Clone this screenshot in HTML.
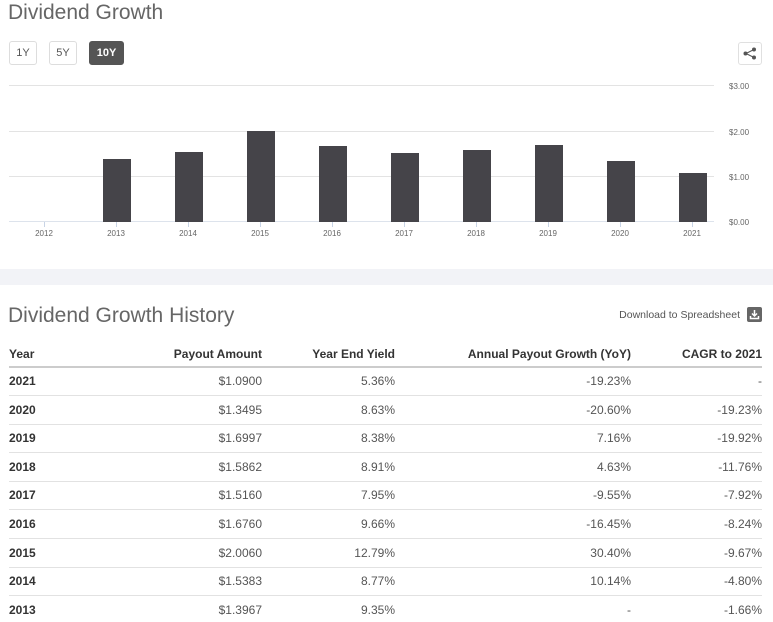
<!DOCTYPE html>
<html><head><meta charset="utf-8"><style>
*{margin:0;padding:0;box-sizing:border-box}
body{width:773px;height:622px;background:#fff;position:relative;overflow:hidden;font-family:"Liberation Sans",Arial,sans-serif;color:#333}
.a{position:absolute}
h1{position:absolute;font-weight:normal;color:#666;font-size:21px;left:8px;white-space:nowrap}
.btn{position:absolute;top:41px;height:24px;border:1px solid #ddd;border-radius:3px;font-size:11px;color:#555;text-align:center;line-height:22px;background:#fff}
.grid{position:absolute;left:9px;width:705px;height:1px;background:#e3e3e3}
.yl{position:absolute;left:729px;font-size:8px;color:#666}
.bar{position:absolute;width:28px;background:#454449}
.xl{position:absolute;top:229px;font-size:8px;color:#666;width:40px;text-align:center}
.tick{position:absolute;top:222px;width:1px;height:5px;background:#c8d4e6}
.r{position:absolute;left:9px;width:753px;height:1px;background:#e2e2e2}
.c{position:absolute;font-size:12px;color:#555;white-space:nowrap}
.y{font-weight:bold;color:#333;left:9px}
.h{font-weight:bold;color:#333}
</style></head><body>
<h1 style="top:1px">Dividend Growth</h1>
<div class="btn" style="left:9px;width:28px">1Y</div>
<div class="btn" style="left:49px;width:28px">5Y</div>
<div class="btn" style="left:89px;width:35px;background:#555;color:#fff;border-color:#555;font-weight:bold">10Y</div>
<div class="a" style="left:738px;top:42px;width:24px;height:23px;border:1px solid #e0e0e0;border-radius:3px">
<svg width="22" height="21" viewBox="0 0 22 21"><g fill="#555" stroke="#555" stroke-width="1"><line x1="7" y1="10.5" x2="15" y2="6.5"/><line x1="7" y1="10.5" x2="15" y2="14.5"/><circle cx="6.5" cy="10.5" r="1.5"/><circle cx="15" cy="6.5" r="1.5"/><circle cx="15" cy="14.5" r="1.5"/></g></svg></div>

<div class="grid" style="top:85px"></div>
<div class="grid" style="top:131px"></div>
<div class="grid" style="top:176px"></div>
<div class="grid" style="top:221px;background:#dde3ec"></div>
<div class="yl" style="top:82px">$3.00</div>
<div class="yl" style="top:128px">$2.00</div>
<div class="yl" style="top:173px">$1.00</div>
<div class="yl" style="top:218px">$0.00</div>

<div class="bar" style="left:103px;top:159px;height:63px"></div>
<div class="bar" style="left:175px;top:152px;height:70px"></div>
<div class="bar" style="left:247px;top:131px;height:91px"></div>
<div class="bar" style="left:319px;top:146px;height:76px"></div>
<div class="bar" style="left:391px;top:153px;height:69px"></div>
<div class="bar" style="left:463px;top:150px;height:72px"></div>
<div class="bar" style="left:535px;top:145px;height:77px"></div>
<div class="bar" style="left:607px;top:161px;height:61px"></div>
<div class="bar" style="left:679px;top:173px;height:49px"></div>

<div class="tick" style="left:44px"></div><div class="xl" style="left:24px">2012</div>
<div class="tick" style="left:116px"></div><div class="xl" style="left:96px">2013</div>
<div class="tick" style="left:188px"></div><div class="xl" style="left:168px">2014</div>
<div class="tick" style="left:260px"></div><div class="xl" style="left:240px">2015</div>
<div class="tick" style="left:332px"></div><div class="xl" style="left:312px">2016</div>
<div class="tick" style="left:404px"></div><div class="xl" style="left:384px">2017</div>
<div class="tick" style="left:476px"></div><div class="xl" style="left:456px">2018</div>
<div class="tick" style="left:548px"></div><div class="xl" style="left:528px">2019</div>
<div class="tick" style="left:620px"></div><div class="xl" style="left:600px">2020</div>
<div class="tick" style="left:692px"></div><div class="xl" style="left:672px">2021</div>

<div class="a" style="left:0;top:269px;width:773px;height:16px;background:#f2f3f7"></div>

<h1 style="top:304px">Dividend Growth History</h1>
<div class="c" style="right:33px;top:309px;font-size:10.5px">Download to Spreadsheet</div>
<div class="a" style="left:747px;top:307px;width:15px;height:15px;background:#666;border-radius:2px">
<svg width="15" height="15" viewBox="0 0 15 15"><g fill="none" stroke="#fff" stroke-width="1.5"><line x1="7.5" y1="3" x2="7.5" y2="9"/><polyline points="5,6.5 7.5,9 10,6.5"/><polyline points="3.5,9 3.5,11.5 11.5,11.5 11.5,9"/></g></svg></div>

<div class="c h" style="left:9px;top:347px">Year</div>
<div class="c h" style="right:511px;top:347px">Payout Amount</div>
<div class="c h" style="right:378px;top:347px">Year End Yield</div>
<div class="c h" style="right:142px;top:347px">Annual Payout Growth (YoY)</div>
<div class="c h" style="right:11px;top:347px">CAGR to 2021</div>
<div class="a" style="left:9px;top:366px;width:753px;height:2px;background:#ccc"></div>

<div id="rows"></div>
<script>
var d=[["2021","$1.0900","5.36%","-19.23%","-"],["2020","$1.3495","8.63%","-20.60%","-19.23%"],["2019","$1.6997","8.38%","7.16%","-19.92%"],["2018","$1.5862","8.91%","4.63%","-11.76%"],["2017","$1.5160","7.95%","-9.55%","-7.92%"],["2016","$1.6760","9.66%","-16.45%","-8.24%"],["2015","$2.0060","12.79%","30.40%","-9.67%"],["2014","$1.5383","8.77%","10.14%","-4.80%"],["2013","$1.3967","9.35%","-","-1.66%"]];
var h="";
for(var i=0;i<d.length;i++){var t=374+i*28.6;
h+='<div class="c y" style="top:'+t+'px">'+d[i][0]+'</div>';
h+='<div class="c" style="right:511px;top:'+t+'px">'+d[i][1]+'</div>';
h+='<div class="c" style="right:378px;top:'+t+'px">'+d[i][2]+'</div>';
h+='<div class="c" style="right:142px;top:'+t+'px">'+d[i][3]+'</div>';
h+='<div class="c" style="right:11px;top:'+t+'px">'+d[i][4]+'</div>';
if(i<d.length-1)h+='<div class="r" style="top:'+(395+i*28.6)+'px"></div>';}
document.getElementById("rows").innerHTML=h;
</script>
</body></html>
